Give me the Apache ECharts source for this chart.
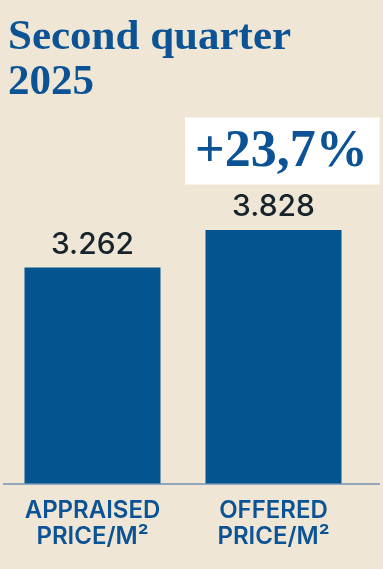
<!DOCTYPE html>
<html>
<head>
<meta charset="utf-8">
<script src="https://cdn.jsdelivr.net/npm/echarts@6/dist/echarts.min.js"></script>
<style>
html,body{margin:0;padding:0;background:#efe6d6;}
#c{width:383px;height:569px;}
</style>
</head>
<body>
<div id="c"></div>
<script>
const titleText = "Second quarter\n2025";
const categories = ["APPRAISED\nPRICE/M²", "OFFERED\nPRICE/M²"];
const values = [3262, 3828];
const changeLabel = "+23,7%";

function fmt(v) {
  return String(v).replace(/\B(?=(\d{3})+(?!\d))/g, ".");
}

const chart = echarts.init(document.getElementById('c'), null, {renderer: 'canvas'});
const BLUE = '#03548f';
chart.setOption({
  backgroundColor: '#efe6d6',
  animation: false,
  title: [{
    text: titleText,
    left: 3,
    top: 10,
    textStyle: {
      fontFamily: 'Liberation Serif',
      fontWeight: 'bold',
      fontSize: 43,
      lineHeight: 45,
      color: '#0b5394'
    }
  }, {
    text: changeLabel,
    left: 185,
    top: 118,
    padding: [9, 12, 6, 10],
    backgroundColor: '#ffffff',
    textStyle: {
      fontFamily: 'Liberation Serif',
      fontWeight: 'bold',
      fontSize: 52,
      lineHeight: 51,
      color: '#0b5394'
    }
  }],
  grid: {left: 2, width: 362, top: 230, bottom: 85, containLabel: false},
  xAxis: {
    type: 'category',
    data: categories,
    axisLine: {show: false},
    axisTick: {show: false},
    axisLabel: {
      margin: 14,
      fontFamily: 'Inter',
      fontWeight: 600,
      fontSize: 24,
      lineHeight: 26,
      color: '#0b5394'
    }
  },
  yAxis: {
    type: 'value',
    min: 0,
    max: 'dataMax',
    show: false,
    splitLine: {show: false}
  },
  graphic: [{
    type: 'line',
    shape: {x1: 3, y1: 484, x2: 380, y2: 484},
    style: {stroke: '#7391b3', lineWidth: 1.5},
    z: 10
  }],
  series: [{
    type: 'bar',
    data: values,
    barWidth: 136,
    itemStyle: {color: BLUE},
    label: {
      show: true,
      position: 'top',
      distance: 8,
      formatter: p => fmt(p.value),
      fontFamily: 'Inter',
      fontWeight: 500,
      fontSize: 30,
      color: '#17242c'
    }
  }]
});
</script>
</body>
</html>
